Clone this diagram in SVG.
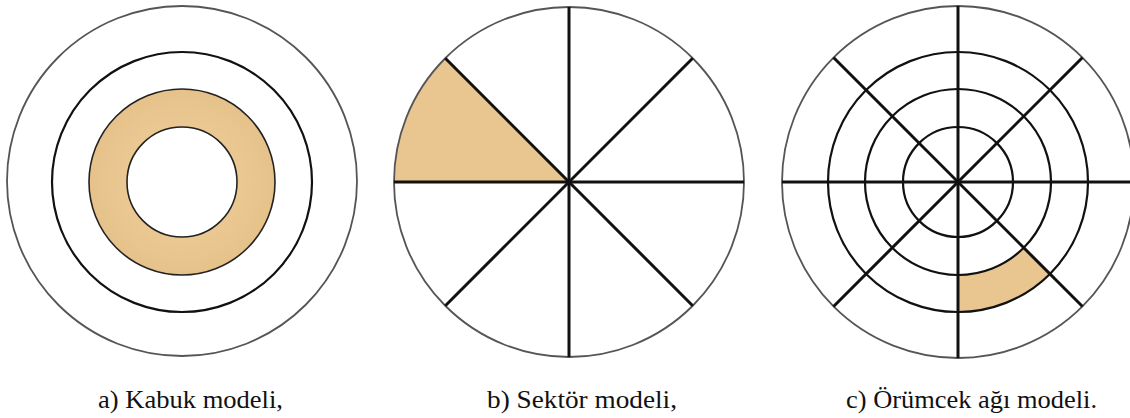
<svg xmlns="http://www.w3.org/2000/svg" width="1130" height="418" viewBox="0 0 1130 418">
<style>
.bg{fill:#ffffff}
.outer{fill:none;stroke:#555555;stroke-width:1.8}
.ring{fill:none;stroke:#111111;stroke-width:2.2}
.thin{fill:none;stroke:#222222;stroke-width:1.6}
.spoke{stroke:#111111;stroke-width:3;stroke-linecap:butt}
.shade{fill:#E9C690}
.lbl{font-family:"Liberation Serif","Times New Roman",Times,serif;font-size:26px;fill:#111111}
</style>
<defs>
<radialGradient id="g1" cx="0.5" cy="0.5" r="0.5">
<stop offset="0.55" stop-color="#EBC994"/>
<stop offset="1" stop-color="#E6C28A"/>
</radialGradient>
</defs>
<rect class="bg" x="0" y="0" width="1130" height="418"/>

<g id="shell-model">
<circle class="outer" cx="182" cy="181" r="175"/>
<circle class="ring" cx="182" cy="182" r="130"/>
<path d="M182,89 A93,93 0 1,1 181.99,89 Z M182,127 A55,55 0 1,0 182.01,127 Z" fill="url(#g1)" fill-rule="evenodd"/>
<circle class="thin" cx="182" cy="182" r="93"/>
<circle class="thin" cx="182" cy="182" r="55"/>
</g>

<g id="sector-model">
<circle cx="569" cy="182" r="175" fill="#ffffff"/>
<path class="shade" d="M569,182 L394,182 A175,175 0 0,1 445.3,58.3 Z"/>
<circle class="outer" cx="569" cy="182" r="175"/>
</g>

<g id="web-model">
<circle cx="958" cy="182" r="176" fill="#ffffff"/>
<path class="shade" d="M958,275 L958,312 A130,130 0 0,0 1049.9,273.9 L1023.8,247.8 A93,93 0 0,1 958,275 Z"/>
<circle class="outer" cx="958" cy="182" r="176"/>
<circle class="ring" cx="958" cy="182" r="130"/>
<circle class="ring" cx="958" cy="182" r="93"/>
<circle class="ring" cx="958" cy="182" r="55"/>
</g>

<g id="connectors">
<line class="spoke" x1="394" y1="182" x2="744" y2="182"/>
<line class="spoke" x1="569" y1="7" x2="569" y2="357"/>
<line class="spoke" x1="445.3" y1="58.3" x2="692.7" y2="305.7"/>
<line class="spoke" x1="692.7" y1="58.3" x2="445.3" y2="305.7"/>
<line class="spoke" x1="782" y1="182" x2="1130" y2="182"/>
<line class="spoke" x1="958" y1="6" x2="958" y2="358"/>
<line class="spoke" x1="833.5" y1="57.5" x2="1082.5" y2="306.5"/>
<line class="spoke" x1="1082.5" y1="57.5" x2="833.5" y2="306.5"/>
</g>

<g id="labels">
<text class="lbl" x="98" y="408" textLength="185" lengthAdjust="spacingAndGlyphs">a) Kabuk modeli,</text>
<text class="lbl" x="487" y="408" textLength="190" lengthAdjust="spacingAndGlyphs">b) Sektör modeli,</text>
<text class="lbl" x="846" y="408" textLength="251" lengthAdjust="spacingAndGlyphs">c) Örümcek ağı modeli.</text>
</g>
</svg>
